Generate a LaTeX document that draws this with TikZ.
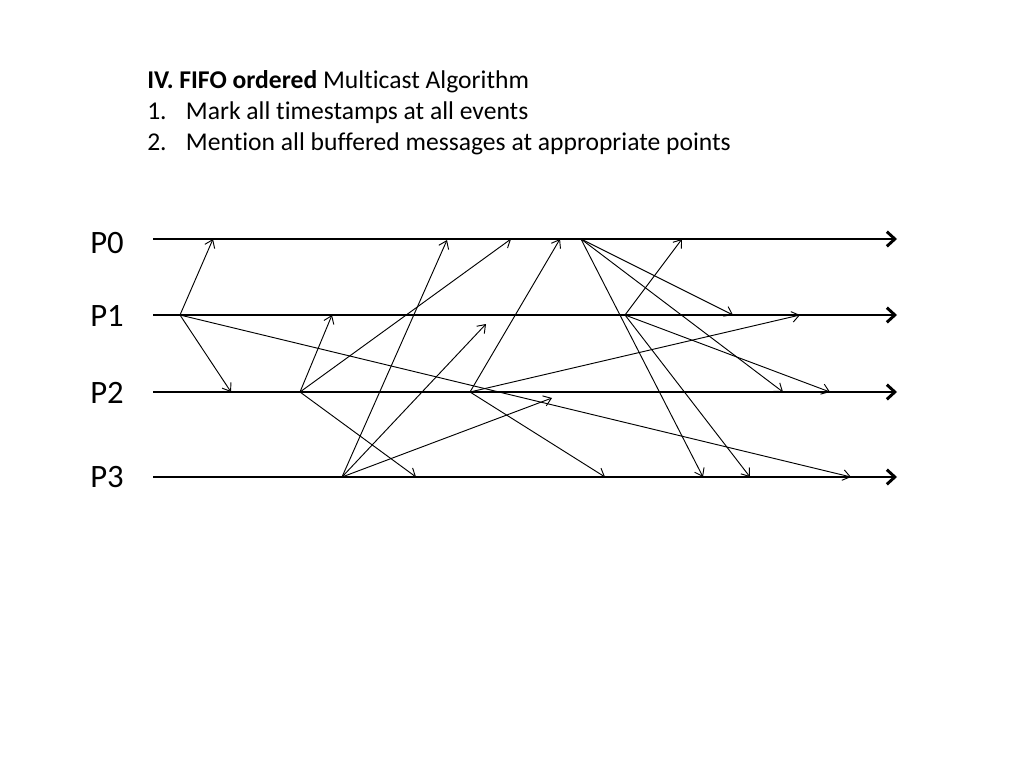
\documentclass[tikz,border=0pt]{standalone}
\usepackage{fontspec}
\setmainfont{Carlito}[Ligatures=NoCommon]
\usetikzlibrary{arrows.meta}

\tikzset{
  proc/.style={line width=2.2pt,-{Straight Barb[length=6pt,width=11pt]}},
  msg/.style={line width=0.7pt,-{Straight Barb[length=5.5pt,width=8pt]}},
  plabel/.style={anchor=base,inner sep=0pt,font=\fontsize{24.5}{28}\selectfont},
  head/.style={anchor=base west,inner sep=0pt,font=\fontsize{19.2}{23}\selectfont}
}

\begin{document}
\begin{tikzpicture}[x=0.75pt,y=-0.75pt]
  \useasboundingbox (0,0) rectangle (1024,768);
  \node[head] (title) at (147,88) {\textbf{IV. FIFO ordered} Multicast Algorithm};
  \node[head] (step1) at (147,119) {\makebox[29pt][l]{1.}Mark all timestamps at all events};
  \node[head] (step2) at (147,150) {\makebox[29pt][l]{2.}Mention all buffered messages at appropriate points};
  \foreach \i/\y in {0/239,1/315,2/392,3/477}
  {
    \coordinate (s\i) at (153,\y);
    \coordinate (e\i) at (897,\y);
    \draw[proc] (s\i) -- (e\i);
  }
  \foreach \i/\y in {0/253,1/326,2/403,3/487}
    \node[plabel] (p\i) at (107,\y) {P\i};
  % send events and their receive points
  \foreach \n/\x/\y in {a/180/315,b/300/392,c/342/477,d/470/392,f/581/239,g/625/315}
    \coordinate (\n) at (\x,\y);
  \foreach \n/\x/\y in {a1/213/239,a2/231/392,a3/851/477,
                        b1/332/315,b2/511/239,b3/416/477,
                        c1/447/240,c2/486/324,c3/552/398,
                        d1/560/239,d2/800/315,d3/605/477,
                        f1/733/315,f2/783/392,f3/703/477,
                        g1/682/239,g2/830/392,g3/750/477}
    \coordinate (\n) at (\x,\y);
  \foreach \s in {a,b,c,d,f,g}
    \foreach \k in {1,2,3}
      \draw[msg] (\s) -- (\s\k);
\end{tikzpicture}
\end{document}
